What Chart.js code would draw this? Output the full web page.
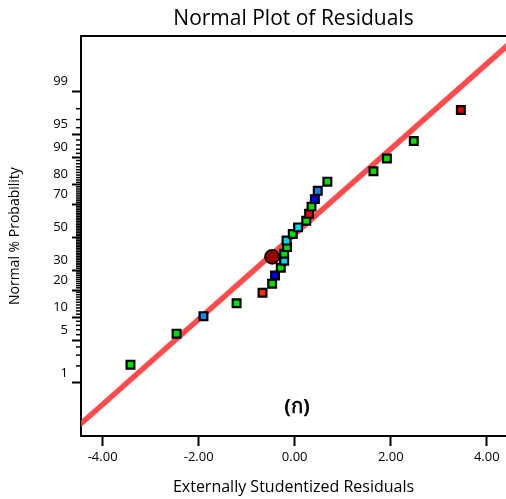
<!DOCTYPE html>
<html>
<head>
<meta charset="utf-8">
<script src="https://cdn.jsdelivr.net/npm/chart.js@4"></script>
<style>
  html, body { margin: 0; padding: 0; background: #fff; overflow: hidden; }
  #wrap { width: 506px; height: 499px; }
</style>
</head>
<body>
<div id="wrap"><canvas id="c" width="506" height="499"></canvas></div>
<script>
// ---- data ----
const chartTitle = 'Normal Plot of Residuals';
const xTitle = 'Externally Studentized Residuals';
const yTitle = 'Normal % Probability';

// externally studentized residuals (x) and normal % probability (y)
const residuals = [-3.42, -2.46, -1.90, -1.21, -0.67, -0.47, -0.41, -0.29, -0.22, -0.22, -0.16, -0.17,
                   -0.04, 0.07, 0.24, 0.30, 0.35, 0.42, 0.48, 0.68, 1.64, 1.92, 2.48, 3.46];
const probabilities = [2.1, 6.2, 10.4, 14.6, 18.8, 22.9, 27.1, 31.3, 35.4, 39.6, 43.8, 47.9,
                       52.1, 56.3, 60.4, 64.6, 68.8, 72.9, 77.1, 81.3, 85.4, 89.6, 93.8, 97.9];
const pointColors = ['#00e000', '#00e000', '#0a84ff', '#00e000', '#ff3000', '#00e000', '#0000ff', '#00e000',
                     '#00d8f0', '#00e000', '#00e000', '#00d8f0', '#00e000', '#00d8f0', '#00e000', '#ff0000',
                     '#00e000', '#0000ff', '#0a84ff', '#00e000', '#00e000', '#00e000', '#00e000', '#e00000'];

// highlighted point (large dark-red circle)
const highlightResidual = [-0.47];
const highlightProbability = [37.8];

// fitted normal line (two points read on the line)
const fitResiduals = [-4.62, 4.47];
const fitProbabilities = [0.1, 99.9];

// axes
const xTickValues = [-4, -2, 0, 2, 4];
const xRange = [-4.45, 4.40];
const yTickPercents = [1, 5, 10, 20, 30, 50, 70, 80, 90, 95, 99];
const yMinorPercents = [2, 3, 4, 6, 7, 8, 9, 11, 12, 13, 14, 15, 16, 17, 18, 19, 21, 22, 23, 24, 25, 26, 27, 28, 29,
  31, 32, 33, 34, 35, 36, 37, 38, 39, 40, 41, 42, 43, 44, 45, 46, 47, 48, 49,
  51, 52, 53, 54, 55, 56, 57, 58, 59, 60, 61, 62, 63, 64, 65, 66, 67, 68, 69,
  71, 72, 73, 74, 75, 76, 77, 78, 79, 81, 82, 83, 84, 85, 86, 87, 88, 89, 91, 92, 93, 94, 96, 97, 98];
const yRangePercent = [0.0755, 99.934];

// annotation label
const panelLabel = '(ก)';
const panelLabelAt = { x: 0.05, p: 0.33 };

// ---- inverse normal CDF (probability scale) ----
function probit(p) {
  const a = [-3.969683028665376e+01, 2.209460984245205e+02, -2.759285104469687e+02, 1.383577518672690e+02, -3.066479806614716e+01, 2.506628277459239e+00];
  const b = [-5.447609879822406e+01, 1.615858368580409e+02, -1.556989798598866e+02, 6.680131188771972e+01, -1.328068155288572e+01];
  const c = [-7.784894002430293e-03, -3.223964580411365e-01, -2.400758277161838e+00, -2.549732539343734e+00, 4.374664141464968e+00, 2.938163982698783e+00];
  const d = [7.784695709041462e-03, 3.224671290700398e-01, 2.445134137142996e+00, 3.754408661907416e+00];
  const pl = 0.02425, ph = 1 - pl;
  let q, r;
  if (p < pl) {
    q = Math.sqrt(-2 * Math.log(p));
    return (((((c[0]*q+c[1])*q+c[2])*q+c[3])*q+c[4])*q+c[5]) / ((((d[0]*q+d[1])*q+d[2])*q+d[3])*q+1);
  } else if (p <= ph) {
    q = p - 0.5; r = q * q;
    return (((((a[0]*r+a[1])*r+a[2])*r+a[3])*r+a[4])*r+a[5])*q / (((((b[0]*r+b[1])*r+b[2])*r+b[3])*r+b[4])*r+1);
  } else {
    q = Math.sqrt(-2 * Math.log(1 - p));
    return -(((((c[0]*q+c[1])*q+c[2])*q+c[3])*q+c[4])*q+c[5]) / ((((d[0]*q+d[1])*q+d[2])*q+d[3])*q+1);
  }
}
const z = pct => probit(pct / 100);

const FONT = '"Open Sans", "DejaVu Sans", sans-serif';

const pts = residuals.map((r, i) => ({ x: r, y: z(probabilities[i]) }));
const hl = highlightResidual.map((r, i) => ({ x: r, y: z(highlightProbability[i]) }));
const fit = fitResiduals.map((r, i) => ({ x: r, y: z(fitProbabilities[i]) }));

const minorTickPlugin = {
  id: 'minorTicks',
  afterDraw(chart) {
    const s = chart.scales.y, ctx = chart.ctx;
    ctx.save();
    ctx.strokeStyle = '#000';
    ctx.lineWidth = 1.5;
    yMinorPercents.forEach(p => {
      const y = s.getPixelForValue(z(p));
      ctx.beginPath();
      ctx.moveTo(s.right - 5, y);
      ctx.lineTo(s.right, y);
      ctx.stroke();
    });
    ctx.restore();
  }
};

const labelPlugin = {
  id: 'panelLabel',
  afterDraw(chart) {
    const ctx = chart.ctx;
    const x = chart.scales.x.getPixelForValue(panelLabelAt.x);
    const y = chart.scales.y.getPixelForValue(z(panelLabelAt.p));
    ctx.save();
    ctx.fillStyle = '#000';
    ctx.font = 'bold 20px "Noto Sans", "DejaVu Sans", "Open Sans", sans-serif';
    ctx.textAlign = 'center';
    ctx.textBaseline = 'middle';
    ctx.fillText(panelLabel, x, y);
    ctx.restore();
  }
};

const zeroSidePad = s => { s.paddingLeft = 0; s.paddingRight = 0; };

new Chart(document.getElementById('c'), {
  type: 'scatter',
  data: {
    datasets: [
      {
        type: 'line', data: fit, showLine: true, pointRadius: 0,
        borderColor: 'rgba(255,55,55,0.9)', borderWidth: 5.5, clip: 0, order: 3
      },
      {
        data: pts, pointStyle: 'rect', pointRadius: 5.5, pointHoverRadius: 5.5,
        backgroundColor: pointColors, borderColor: '#000', borderWidth: 2.2, order: 2, clip: false
      },
      {
        data: hl, pointStyle: 'circle', pointRadius: 7, pointHoverRadius: 7,
        backgroundColor: '#9a0000', borderColor: '#000', borderWidth: 1.8, order: 1, clip: false
      }
    ]
  },
  options: {
    responsive: false,
    animation: false,
    devicePixelRatio: 1,
    layout: { padding: 0, autoPadding: false },
    plugins: {
      legend: { display: false },
      tooltip: { enabled: false },
      title: {
        display: true, text: chartTitle, fullSize: false, color: '#000',
        font: { family: FONT, size: 21, weight: 'normal' },
        padding: { top: 6, bottom: 5 }
      }
    },
    scales: {
      x: {
        type: 'linear', position: 'bottom', min: xRange[0], max: xRange[1],
        afterBuildTicks: s => { s.ticks = xTickValues.map(v => ({ value: v })); },
        afterFit: s => { s.height = 63; zeroSidePad(s); },
        ticks: {
          color: '#000', font: { family: FONT, size: 13 }, padding: 3,
          callback: v => Number(v).toFixed(2), maxRotation: 0
        },
        grid: { drawOnChartArea: false, drawTicks: true, tickLength: 10, tickWidth: 2, tickColor: '#000' },
        border: { display: true, color: '#000', width: 2 },
        title: {
          display: true, text: xTitle, color: '#000',
          font: { family: FONT, size: 16 }, padding: { top: 4, bottom: 2 }
        }
      },
      x2: {
        type: 'linear', position: 'top', min: xRange[0], max: xRange[1],
        afterFit: s => { s.height = 0; zeroSidePad(s); },
        ticks: { display: false },
        grid: { drawOnChartArea: false, drawTicks: false },
        border: { display: true, color: '#000', width: 2 }
      },
      y: {
        type: 'linear', position: 'left', min: z(yRangePercent[0]), max: z(yRangePercent[1]),
        afterBuildTicks: s => { s.ticks = yTickPercents.map(p => ({ value: z(p) })); },
        afterFit: s => { s.width = 81; zeroSidePad(s); },
        ticks: {
          color: '#000', font: { family: FONT, size: 13 }, padding: 4, labelOffset: -10,
          callback: (v, i) => String(yTickPercents[i])
        },
        grid: { drawOnChartArea: false, drawTicks: true, tickLength: 9, tickWidth: 2, tickColor: '#000' },
        border: { display: true, color: '#000', width: 2 },
        title: {
          display: true, text: yTitle, color: '#000',
          font: { family: FONT, size: 14 }, padding: { top: 7, bottom: 4 }
        }
      }
    }
  },
  plugins: [minorTickPlugin, labelPlugin]
});
</script>
</body>
</html>
